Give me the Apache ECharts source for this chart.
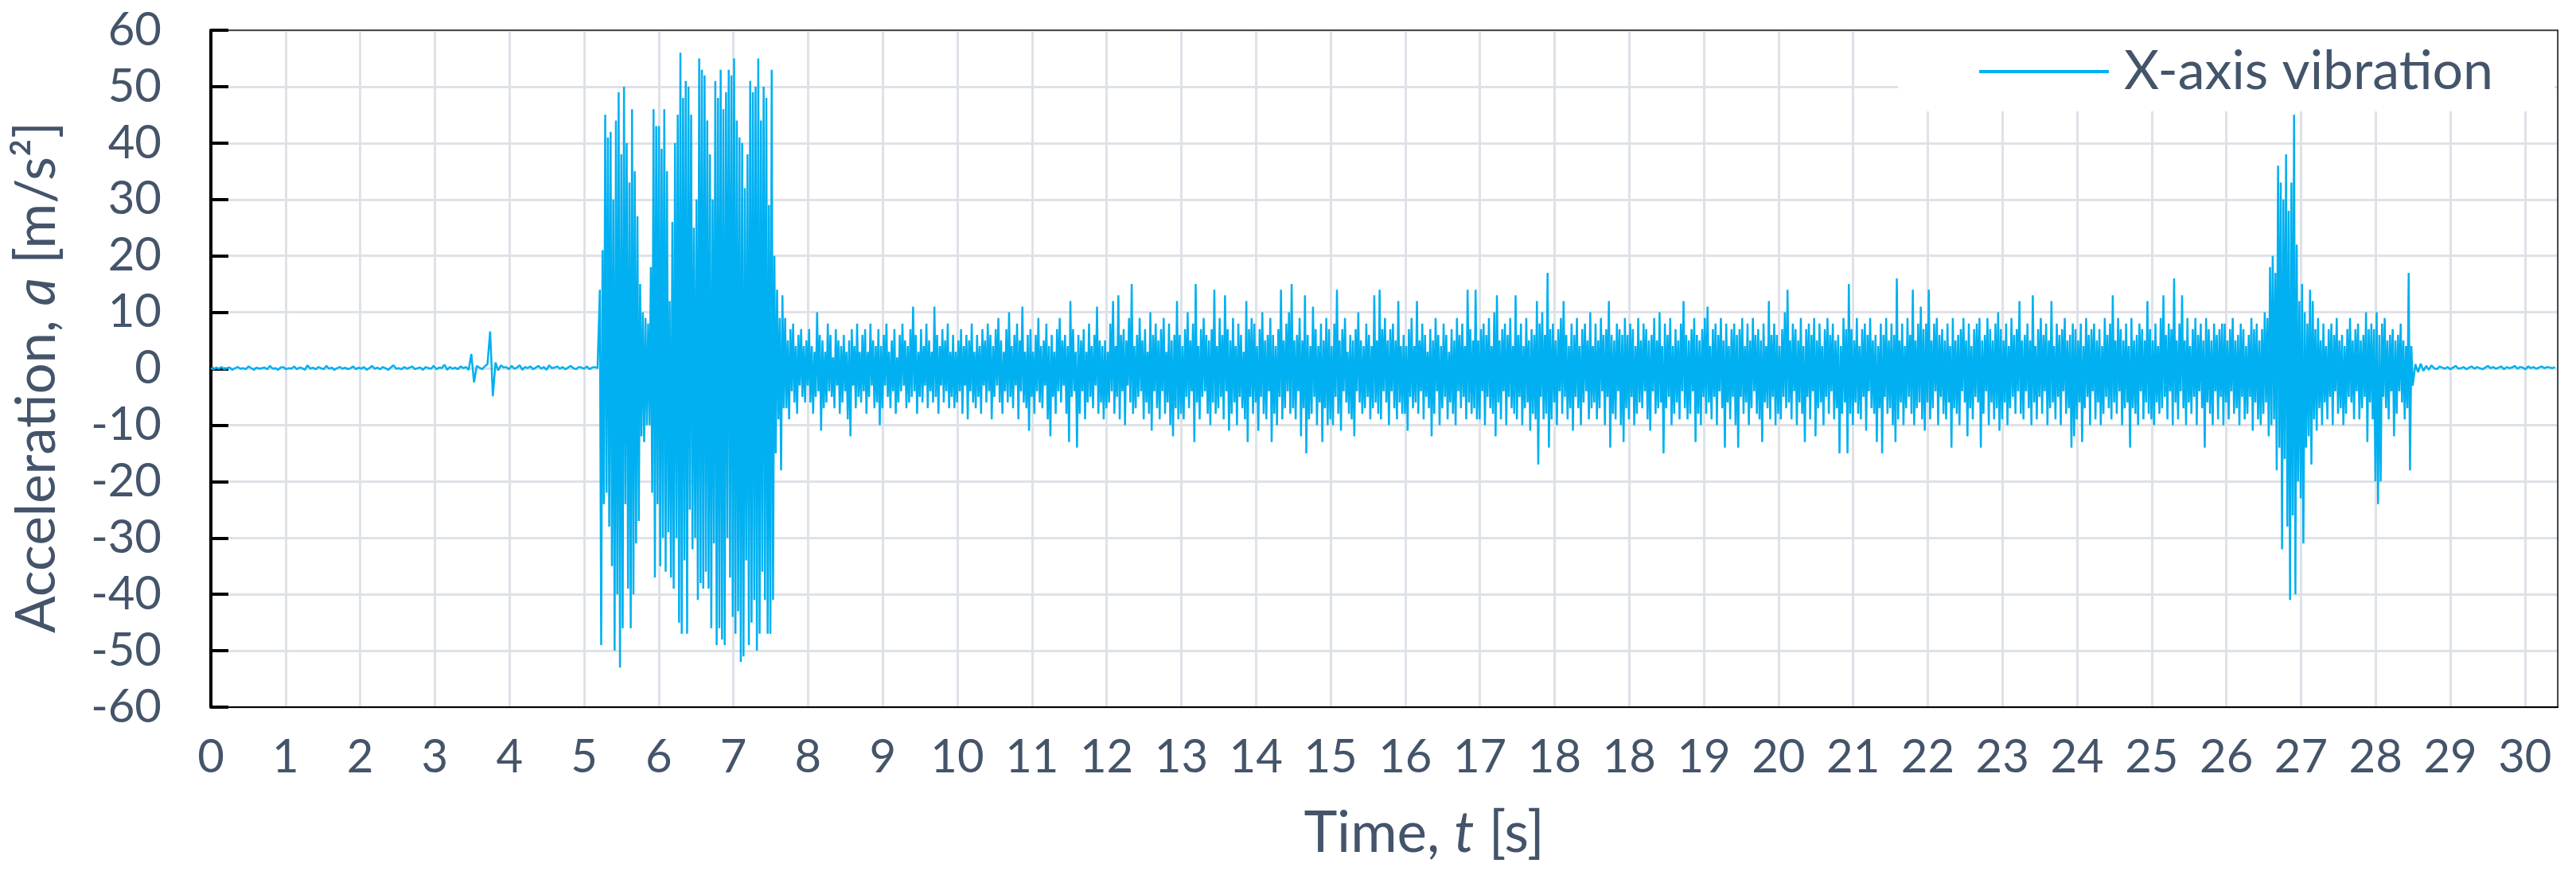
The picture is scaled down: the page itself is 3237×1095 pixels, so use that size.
<!DOCTYPE html>
<html><head><meta charset="utf-8">
<script src="https://cdn.jsdelivr.net/npm/echarts@6/dist/echarts.min.js"></script>
<style>html,body{margin:0;padding:0;background:#fff}#c{width:3237px;height:1095px}</style>
</head><body><div id="c"></div>
<script>
// spacing of the chart's time ticks in seconds (labels are rounded, hence "18, 18")
const TICK_STEP = 0.973;
const tickLabels = ['0','1','2','3','4','5','6','7','8','9','10','11','12','13','14','15','16','17','18','18','19','20','21','22','23','24','25','26','27','28','29','30'];
const yMin = -60, yMax = 60, yStep = 10;
const xMax = 30.59;

// acceleration samples [m/s²]
const quietLead = [0.1,-0.1,0.2,0,0.3,-0.1,0.1,0.2,-0.2,0.1,
 0.3,0,0.1,-0.1,0.4,0.1,-0.2,0.2,0,0.1,
 0.2,-0.1,0.5,0,0.1,-0.2,0.2,0.3,-0.1,0.1,
 0,0.4,-0.1,0.2,0.1,-0.2,0.6,0,0.2,-0.1,
 0.3,0.1,-0.1,0.5,0,0.2,-0.2,0.1,0.3,0,
 0.2,-0.1,0.1,0.4,-0.1,0.2,0,0.3,-0.2,0.1,
 0.5,0,0.2,-0.1,0.3,0.1,-0.2,0.2,0.6,0,
 0.1,-0.1,0.3,0,0.2,0.4,-0.1,0.1,0.2,-0.2,
 0.3,0.1,0,0.5,-0.1,0.2,0.1,0.7,-0.2,0.3,
 0,0.2,-0.1,0.4,0.1,0.3,-0.2,2.6,-2.4,0.5,
 0.2,-0.1,0.4,0.8,6.6,-4.9,1.1,-0.3,0.6,0.2,
 0.3,-0.1,0.5,0,0.2,0.6,-0.2,0.3,0.1,0.4,
 -0.1,0.2,0.5,0,0.3,-0.2,0.6,0.1,0.2,0.4,
 0,0.3,-0.1,0.2,0.5,0.1,-0.1,0.3,0.2,0,
 0.4,-0.1,0.2,0.3,0.1];
const burstStart = [14,-49,21,-24,45,-22,41,-28,42,-35,
 30,-50,44,-40,49,-53,38,-46,50,-24,
 40,-39,33,-46,46,-40,35,-31,27,-27,
 15,-12,10,-13,9,-10,8,-10,
 18,-22,46,-37,43,-24,43,-35,39,-30,
 46,-36,35,-29,12,-37,26,-39,40,-30,
 45,-45,56,-47,48,-34,51,-47,50,-25,
 45,-32,25,-30,30,-41,55,-38,53,-39,
 52,-36,44,-39,38,-46,30,-31,51,-49,
 48,-46,53,-48,46,-49,49,-30,53,-37,
 52,-44,55,-47,44,-43,41,-52,40,-51,
 32,-34,38,-49,51,-45,49,-41,50,-50,
 55,-47,44,-36,50,-41,48,-47,29,-47,
 53,-41,20,-15,14,-9,9,-18,13,-7];
const noiseEarly = [9,-7,5,-9,7,-4,8,-6,4,-8,6,-3,7,-5,4,-6,
 5,-3,7,-6,4,-8,3,-5,10,-4,6,-11,5,-7, 3,-6,8,-4,6,-5,2,-7,7,-3,5,-8,4,-6,
 6,-4,3,-9,5,-12,7,-3,4,-7,8,-5,3,-6, 6,-4,7,-8,3,-5,8,-3,5,-7,4,-6,7,-10,
 4,-7,6,-3,8,-5,3,-7,5,-4,7,-8,2,-6, 6,-4,8,-3,5,-7,4,-6,7,-5,11,-4,6,-8,
 3,-5,7,-6,4,-3,8,-7,5,-4,3,-6,11,-5, 6,-8,4,-3,7,-6,5,-4,8,-7,3,-5,6,-7,
 3,-6,5,-4,7,-8,4,-3,6,-9,5,-4,8,-6, 3,-7,6,-5,4,-8,7,-3,5,-6,8,-4,6,-9,
 4,-5,7,-3,9,-6,5,-8,3,-4,7,-6,10,-5, 4,-7,6,-3,8,-9,5,-4,11,-6,3,-7,6,-11,
 7,-5,3,-8,6,-4,9,-6,4,-7,5,-3,8,-9, 4,-12,6,-5,3,-8,7,-4,9,-6,5,-3,6,-8,
 4,-13,12,-5,7,-4,3,-14,6,-8,5,-4,7,-9, 3,-6,8,-5,4,-7,6,-3,11,-8,5,-6,4,-9,
 5,-7,3,-6,8,-4,12,-8,4,-5,13,-9,6,-4, 7,-10,5,-3,9,-6,15,-8,4,-7,6,-5,9,-4,
 5,-9,7,-6,3,-8,10,-11,6,-4,8,-7,5,-9, 7,-4,9,-8,3,-6,8,-10,5,-12,6,-7,12,-9,
 6,-8,4,-9,7,-5,10,-7,5,-4,8,-13,15,-6, 4,-9,7,-5,9,-4,6,-8,5,-10,7,-6,14,-8,
 4,-7,9,-5,6,-9,13,-4,7,-11,5,-8,9,-6, 4,-10,8,-5,6,-7,3,-9,12,-13,7,-5,9,-8];
const noiseMid = [8,-6,4,-11,7,-5,10,-8,5,-9,6,-4,9,-13, 6,-8,4,-10,7,-5,14,-9,5,-7,8,-4,10,-8,
 15,-7,5,-9,6,-4,9,-12,5,-7,13,-15,6,-9, 4,-8,11,-5,7,-10,4,-6,8,-13,5,-7,9,-10,
 7,-9,4,-10,8,-5,14,-8,5,-11,7,-4,9,-6, 3,-8,6,-9,5,-12,7,-4,10,-6,5,-8,4,-7,
 8,-5,6,-9,4,-7,13,-6,5,-8,14,-9,7,-4, 9,-6,5,-10,7,-4,8,-7,5,-9,12,-6,4,-8,
 6,-8,4,-11,7,-5,9,-7,4,-6,12,-8,5,-4, 8,-9,6,-5,3,-7,7,-12,5,-8,9,-4,6,-10,
 4,-7,8,-5,6,-9,3,-6,7,-8,5,-10,9,-4, 6,-7,8,-5,4,-9,14,-6,7,-8,5,-7,14,-9,
 5,-9,7,-4,8,-10,6,-5,9,-7,4,-8,10,-12, 13,-6,5,-9,7,-4,8,-10,6,-5,9,-7,4,-8,
 13,-9,6,-5,8,-10,4,-7,9,-6,5,-11,7,-8, 6,-9,12,-17,8,-5,10,-9,6,-8,17,-14,7,-9,
 8,-6,5,-10,7,-4,9,-8,12,-5,6,-9,4,-7, 8,-11,6,-5,9,-7,4,-10,7,-6,8,-4,5,-9,
 10,-7,4,-6,8,-9,5,-7,9,-4,6,-10,7,-5, 12,-14,6,-8,5,-9,8,-4,7,-10,6,-13,9,-7,
 6,-9,8,-5,7,-10,4,-8,9,-6,5,-7,8,-4, 7,-9,5,-11,6,-4,9,-8,5,-7,10,-6,4,-15,
 8,-7,6,-5,9,-10,4,-8,7,-6,5,-9,8,-4, 12,-7,6,-9,5,-8,7,-4,9,-13,6,-8,5,-10,
 7,-5,9,-8,11,-6,4,-9,7,-5,8,-10,6,-4, 9,-7,5,-14,8,-6,4,-9,7,-5,8,-10,6,-14,
 7,-5,9,-8,4,-6,8,-10,5,-7,9,-4,6,-8, 7,-9,5,-13,8,-6,4,-7,12,-9,6,-5,8,-10];
const noiseLate = [6,-8,4,-9,7,-5,10,-7,14,-6,5,-9,8,-4, 7,-10,5,-6,9,-8,4,-13,7,-5,8,-9,6,-4,
 9,-12,5,-7,8,-6,4,-10,7,-5,9,-8,6,-4, 8,-9,5,-7,6,-15,4,-8,9,-6,7,-15,15,-8,
 7,-10,5,-6,9,-8,4,-9,7,-5,8,-11,6,-4, 9,-7,5,-8,6,-13,4,-7,8,-15,6,-5,9,-8,
 5,-7,8,-10,6,-13,16,-9,5,-6,8,-10,4,-7, 9,-5,6,-8,14,-10,5,-7,8,-6,11,-9,7,-11,
 8,-6,14,-9,5,-7,8,-4,9,-10,6,-5,7,-8, 5,-9,8,-6,4,-14,9,-7,5,-8,6,-10,7,-4,
 9,-6,5,-12,8,-7,4,-9,7,-5,8,-6,9,-14, 5,-8,6,-4,9,-10,7,-6,5,-9,8,-7,10,-11,
 7,-9,5,-6,8,-10,4,-7,9,-5,6,-8,7,-4, 12,-8,5,-9,6,-4,8,-7,5,-10,13,-6,4,-9,
 7,-5,9,-8,6,-4,8,-10,5,-7,12,-6,4,-9, 8,-5,6,-10,7,-4,9,-8,5,-7,6,-14,8,-12,
 7,-9,5,-6,8,-13,4,-7,9,-5,6,-10,7,-4, 8,-9,5,-6,7,-10,4,-8,9,-5,6,-7,8,-9,
 13,-6,5,-8,9,-4,7,-10,5,-7,8,-6,4,-14, 9,-7,5,-8,6,-10,8,-4,7,-9,5,-6,12,-8,
 7,-9,5,-10,8,-6,4,-8,9,-7,13,-5,6,-9, 8,-4,7,-10,16,-6,5,-9,8,-4,13,-7,5,-10,
 9,-6,4,-8,7,-5,9,-10,6,-4,8,-7,5,-14, 9,-6,7,-8,5,-10,8,-4,6,-9,7,-5,8,-10];
const burstEnd = [8,-6,5,-9,7,-4,9,-8,5,-7,6,-10,8,-5, 7,-9,4,-8,6,-5,9,-11,7,-6,8,-9,5,-10,
 7,-8,10,-6,9,-12,18,-10,20,-9,17,-18,36,-14, 33,-32,30,-16,38,-28,28,-41,33,-26,45,-40,22,-20,
 12,-23,15,-31,10,-14,8,-12,14,-17,12,-9,7,-11, 9,-7,5,-10,8,-6,4,-9,7,-5,8,-10,6,-4,
 9,-8,5,-7,6,-10,4,-8,7,-5,9,-6,5,-9, 7,-4,8,-9,5,-7,6,-5,10,-13,7,-6,8,-9];
const noiseEnd = [7,-20,10,-24,6,-20,8,-5,9,-7,5,-9,6,-4, 7,-12,5,-8,6,-4,8,-6,5,-9,4,-7,17,-18, 4,-3];
const quietTail = [0.8,-0.6,0.9,-0.4,0.5,-0.2,0.6,0.1,-0.1,0.4,
 0.2,0,0.3,-0.1,0.2,0.5,0,0.1,0.3,-0.1,
 0.2,0.4,0,0.3,0.1,-0.1,0.2,0.5,0.1,0.3,
 0,0.2,0.4,-0.1,0.3,0.1,0.2,0.5,0,0.3,
 0.2,-0.1,0.4,0.1,0.3,0,0.2,0.4,0.1,0.3,
 0.2,0.1,0.3];

// sampling of each recorded stretch (start time / step in seconds)
const segments = [
  {t0: 0, dt: 0.035, values: quietLead},
  {t0: 5.07, dt: 0.0175, values: burstStart},
  {t0: 7.485, dt: 0.017375, values: noiseEarly},
  {dt: 0.017375, values: noiseMid},
  {dt: 0.017375, values: noiseLate},
  {dt: 0.017375, values: burstEnd},
  {dt: 0.017375, values: noiseEnd},
  {dt: 0.035, values: quietTail}
];
const data = [];
let lastT = 0;
segments.forEach(s => {
  let t = (s.t0 !== undefined) ? s.t0 : lastT + s.dt;
  s.values.forEach(v => { data.push([+t.toFixed(4), v]); lastT = t; t += s.dt; });
});

const TXT = '#44546A', GRID = '#DEE2E8', LINE = '#00B0F0', FONT = 'Lato';
const chart = echarts.init(document.getElementById('c'), null, {renderer: 'canvas'});
chart.setOption({
  animation: false,
  backgroundColor: '#fff',
  textStyle: {fontFamily: FONT},
  grid: {left: 265, right: 23, top: 38, bottom: 206, containLabel: false},
  legend: {
    show: true, left: 2385, top: 40, padding: [16, 77, 16, 102],
    backgroundColor: '#fff', itemWidth: 163, itemHeight: 4, itemGap: 0,
    textStyle: {color: TXT, fontSize: 68, lineHeight: 68, fontFamily: FONT, padding: [0, 0, 0, 14]},
    data: [{name: 'X-axis vibration', icon: 'rect', itemStyle: {color: LINE}}]
  },
  xAxis: [{
    type: 'value', min: 0, max: xMax, interval: TICK_STEP,
    axisLine: {show: true, onZero: false, lineStyle: {color: '#000', width: 2}},
    axisTick: {show: false},
    splitLine: {show: true, lineStyle: {color: GRID, width: 3}},
    axisLabel: {color: TXT, fontSize: 58, fontFamily: FONT, margin: 34, showMaxLabel: false,
      formatter: v => { const i = Math.round(v / TICK_STEP); return tickLabels[i] !== undefined ? tickLabels[i] : ''; }},
    name: 'Time, {i|t} [s]', nameLocation: 'middle', nameGap: 124,
    nameTextStyle: {color: TXT, fontSize: 71, fontFamily: FONT, padding: [0, 0, 0, 100],
      rich: {i: {fontStyle: 'italic', fontSize: 71, color: TXT, fontFamily: FONT}}}
  }, {
    type: 'value', position: 'top', min: 0, max: xMax,
    axisLine: {show: true, onZero: false, lineStyle: {color: '#1a1a1a', width: 1.5}},
    axisTick: {show: false}, axisLabel: {show: false}, splitLine: {show: false}
  }],
  yAxis: [{
    type: 'value', min: yMin, max: yMax, interval: yStep,
    axisLine: {show: true, onZero: false, lineStyle: {color: '#000', width: 4}},
    axisTick: {show: true, inside: true, length: 22, lineStyle: {color: '#000', width: 4}},
    splitLine: {show: true, lineStyle: {color: GRID, width: 3}},
    axisLabel: {color: TXT, fontSize: 58, fontFamily: FONT, margin: 62},
    name: 'Acceleration, {i|a} [m/s²]', nameLocation: 'middle', nameGap: 184, nameRotate: 90,
    nameTextStyle: {color: TXT, fontSize: 69, fontFamily: FONT, padding: [0, 22, 0, 0],
      rich: {i: {fontStyle: 'italic', fontSize: 69, color: TXT, fontFamily: FONT}}}
  }, {
    type: 'value', position: 'right', min: yMin, max: yMax,
    axisLine: {show: true, onZero: false, lineStyle: {color: '#1a1a1a', width: 1.5}},
    axisTick: {show: false}, axisLabel: {show: false}, splitLine: {show: false}
  }],
  series: [{
    type: 'line', name: 'X-axis vibration', data: data,
    showSymbol: false, symbol: 'none', z: 3,
    lineStyle: {color: LINE, width: 2.5}, itemStyle: {color: LINE}
  }]
});
</script>
</body></html>
